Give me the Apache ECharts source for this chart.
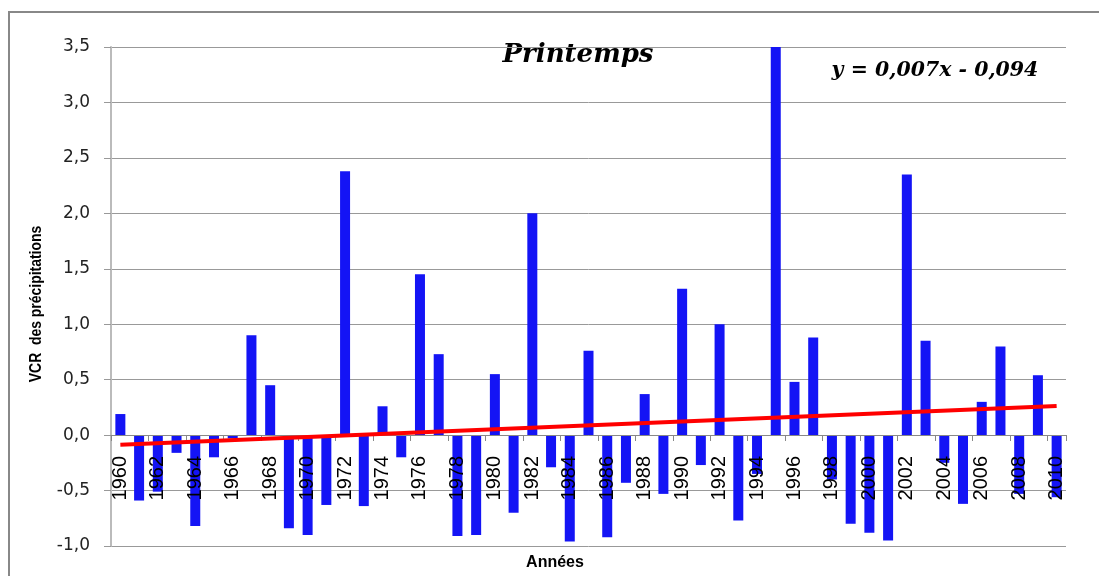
<!DOCTYPE html>
<html>
<head>
<meta charset="utf-8">
<script src="https://cdn.jsdelivr.net/npm/echarts@6/dist/echarts.min.js"></script>
<style>
html,body{margin:0;padding:0;background:#fff;}
#chart{width:1099px;height:576px;}
</style>
</head>
<body>
<div id="chart"></div>
<script>
const years = ['1960','1961','1962','1963','1964','1965','1966','1967','1968','1969',
'1970','1971','1972','1973','1974','1975','1976','1977','1978','1979',
'1980','1981','1982','1983','1984','1985','1986','1987','1988','1989',
'1990','1991','1992','1993','1994','1995','1996','1997','1998','1999',
'2000','2001','2002','2003','2004','2005','2006','2007','2008','2009','2010'];
const vcr = [0.19,-0.59,-0.51,-0.16,-0.82,-0.20,-0.03,0.90,0.45,-0.84,
-0.90,-0.63,2.38,-0.64,0.26,-0.20,1.45,0.73,-0.91,-0.90,
0.55,-0.70,2.00,-0.29,-0.96,0.76,-0.92,-0.43,0.37,-0.53,
1.32,-0.27,1.00,-0.77,-0.35,3.50,0.48,0.88,-0.40,-0.80,
-0.88,-0.95,2.35,0.85,-0.25,-0.62,0.30,0.80,-0.53,0.54,-0.56];
const trendYears = ['1960','2010'];
const trendValues = [-0.087, 0.263];
const yTicks = {min:-1, max:3.5, interval:0.5};
const titleText = 'Printemps';
const equationText = 'y = 0,007x - 0,094';
const yName = 'VCR  des précipitations';
const xName = 'Années';

const chart = echarts.init(document.getElementById('chart'));
chart.setOption({
  animation:false,
  backgroundColor:'#fff',
  grid:{left:111,right:33,top:47,bottom:30,containLabel:false,outerBoundsMode:'none'},
  xAxis:{
    type:'category',
    data:years,
    boundaryGap:true,
    offset:-111,
    z:5,
    axisLine:{onZero:false,lineStyle:{color:'#888',width:1}},
    axisTick:{show:true,length:6,lineStyle:{color:'#888'}},
    axisLabel:{interval:1,rotate:90,margin:21,fontFamily:'Liberation Sans, Arial',fontSize:20,color:'#000'},
    splitLine:{show:false}
  },
  yAxis:{
    type:'value',
    min:yTicks.min,max:yTicks.max,interval:yTicks.interval,
    axisLine:{show:true,lineStyle:{color:'#bbb',width:2}},
    axisTick:{show:true,length:7,lineStyle:{color:'#999'}},
    axisLabel:{margin:21,fontFamily:'DejaVu Sans, Verdana',fontSize:17,color:'#222',
      formatter:v=>v.toFixed(1).replace('.',',')},
    splitLine:{show:true,lineStyle:{color:'#999',width:1}}
  },
  series:[
    {type:'bar',data:vcr,barWidth:10,itemStyle:{color:'#1414f5'},z:2},
    {type:'line',data:trendYears.map((y,i)=>[y,trendValues[i]]),symbol:'none',
     lineStyle:{color:'#ff0000',width:4},z:6}
  ],
  graphic:[
    {type:'rect',shape:{x:9,y:12,width:1200,height:700},style:{fill:'none',stroke:'#888',lineWidth:2},z:-1},
    {type:'text',x:578,y:55,style:{text:titleText,font:'italic bold 26px "DejaVu Serif"',fill:'#000',textAlign:'center',textVerticalAlign:'middle'}},
    {type:'text',x:935,y:71,style:{text:equationText,font:'italic bold 20.5px "DejaVu Serif"',fill:'#000',textAlign:'center',textVerticalAlign:'middle'}},
    {type:'text',x:36,y:304,rotation:Math.PI/2,scaleX:0.82,style:{text:yName,font:'bold 17px "Liberation Sans"',fill:'#000',textAlign:'center',textVerticalAlign:'middle'}},
    {type:'text',x:555,y:563,style:{text:xName,font:'bold 16px "Liberation Sans"',fill:'#000',textAlign:'center',textVerticalAlign:'middle'}}
  ]
});
</script>
</body>
</html>
